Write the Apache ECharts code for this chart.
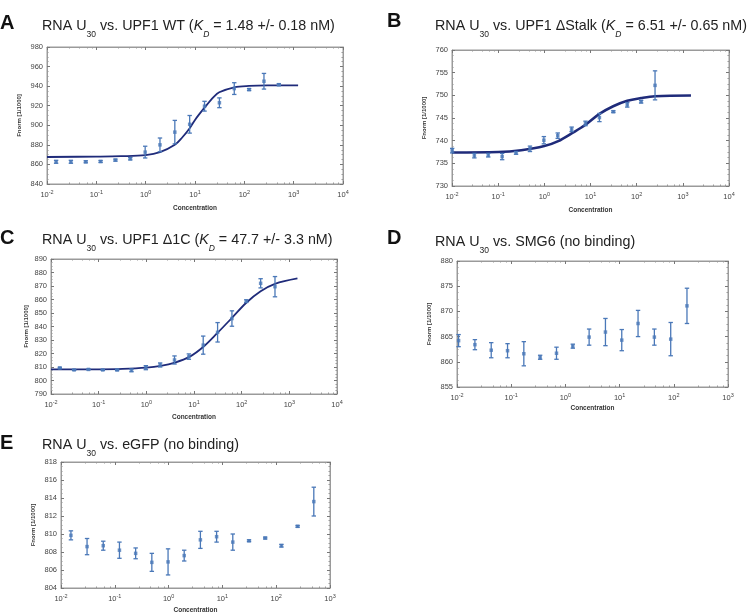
<!DOCTYPE html>
<html>
<head>
<meta charset="utf-8">
<script src="https://cdn.jsdelivr.net/npm/echarts@6/dist/echarts.min.js"></script>
<style>html,body{margin:0;padding:0;background:#fff;}#c{width:748px;height:616px;}</style>
</head>
<body>
<div id="c"></div>
<script>
// ---------- DATA ----------
// Panel A: RNA U30 vs UPF1 WT
const concA = [0.0153,0.0305,0.061,0.122,0.244,0.488,0.977,1.95,3.9,7.8,15.6,31.25,62.5,125,250,500];
const fnormA = [862.7,862.7,862.7,863.0,864.4,865.8,872.6,880.0,893.0,901.0,919.5,923.0,937.5,936.5,945.0,941.5];
const errA = [1.5,1.5,1.0,1.0,1.0,1.2,6.0,7.0,12.0,9.0,5.0,5.0,6.0,1.0,8.0,1.0];
const fitConcA = [0.01,0.1,0.316,1,1.95,3.9,5.5,7.8,10,15.6,24,31,62.5,125,300,1230];
const fitA = [867.6,868.0,868.4,869.5,872.5,880.0,887.5,897.0,905.5,918.0,929.0,933.7,938.8,940.2,940.7,940.8];

// Panel B: RNA U30 vs UPF1 dStalk
const concB = [0.0101,0.0305,0.061,0.122,0.244,0.488,0.977,1.95,3.9,7.8,15.6,31.25,62.5,125,250];
const fnormB = [737.8,736.7,736.8,736.5,737.3,738.2,740.1,741.1,742.5,743.8,745.1,746.4,747.9,748.6,752.2];
const errB = [0.5,0.5,0.4,0.7,0.3,0.6,0.8,0.6,0.5,0.5,0.9,0.2,0.5,0.3,3.2];
const fitConcB = [0.01,0.1,0.316,1,2,3.9,7.8,15.6,31,62.5,125,250,1500];
const fitB = [737.4,737.5,737.9,738.8,739.9,741.6,743.5,745.9,747.6,748.8,749.4,749.8,749.95];

// Panel C: RNA U30 vs UPF1 d1C
const concC = [0.0153,0.0305,0.061,0.122,0.244,0.488,0.977,1.95,3.9,7.8,15.6,31.25,62.5,125,250,500];
const fnormC = [809.3,807.8,808.2,807.8,807.8,807.5,809.5,811.5,815.2,817.7,826.2,835.7,845.9,858.8,872.0,869.5];
const errC = [0.5,0.3,0.3,0.3,0.5,1.0,1.5,1.5,3.0,2.0,6.7,7.2,5.7,1.0,3.4,7.5];
const fitConcC = [0.01,0.1,0.316,1,2,4,8,16,31,62.5,125,250,500,1480];
const fitC = [808.2,808.3,808.6,809.5,810.8,813.3,817.5,825.2,835.2,846.4,857.6,866.1,871.6,875.6];

// Panel D: RNA U30 vs SMG6
const concD = [0.0107,0.0214,0.0428,0.0856,0.171,0.342,0.685,1.37,2.74,5.48,10.96,21.9,43.8,87.7,175];
const fnormD = [864.2,863.4,862.3,862.2,861.6,860.9,861.7,863.1,864.9,865.9,864.3,867.6,864.9,864.5,871.1];
const errD = [1.2,1.0,1.5,1.4,2.4,0.4,1.2,0.4,1.6,2.7,2.1,2.6,1.6,3.3,3.5];

// Panel E: RNA U30 vs eGFP
const concE = [0.0153,0.0305,0.061,0.122,0.244,0.488,0.977,1.95,3.9,7.8,15.6,31.25,62.5,125,250,500];
const fnormE = [809.85,808.6,808.7,808.2,807.85,806.85,806.9,807.6,809.35,809.7,809.1,809.25,809.55,808.7,810.85,813.6];
const errE = [0.5,0.9,0.5,0.9,0.6,1.0,1.45,0.6,0.95,0.6,0.9,0.1,0.1,0.15,0.1,1.6];

// Axes
const yTicksA = {min:840,max:980,interval:20};
const yTicksB = {min:730,max:760,interval:5};
const yTicksC = {min:790,max:890,interval:10};
const yTicksD = {min:855,max:880,interval:5};
const yTicksE = {min:804,max:818,interval:2};
const xRangeABC = {min:0.01,max:10000};
const xRangeDE = {min:0.01,max:1000};

// ---------- STYLE ----------
const FONT = '"Liberation Sans", Arial, Helvetica, sans-serif';
const PT = '#4a78b8';
const CURVE = '#1f2b7a';
const FRAME = '#9a9a9a';

const panels = [
  {letter:'A', conc:concA, y:fnormA, e:errA, fx:fitConcA, fy:fitA, yr:yTicksA, xr:xRangeABC,
   grid:{left:47,top:47,width:296,height:137}, yGap:25, xGap:21,
   title:['{t|RNA U}{s|30}{t| vs. UPF1 WT (}{i|K}{si|D}{t| = 1.48 +/- 0.18 nM)}'], tl:37, tt:11, ll:-5, lt:8},
  {letter:'B', conc:concB, y:fnormB, e:errB, fx:fitConcB, fy:fitB, yr:yTicksB, xr:xRangeABC,
   grid:{left:452,top:50,width:277,height:136}, yGap:25, xGap:21, thick:true,
   title:['{t|RNA U}{s|30}{t| vs. UPF1 \u0394Stalk (}{i|K}{si|D}{t| = 6.51 +/- 0.65 nM)}'], tl:430, tt:11, ll:382, lt:6},
  {letter:'C', conc:concC, y:fnormC, e:errC, fx:fitConcC, fy:fitC, yr:yTicksC, xr:xRangeABC,
   grid:{left:51,top:259,width:286,height:135}, yGap:22, xGap:20,
   title:['{t|RNA U}{s|30}{t| vs. UPF1 \u03941C (}{i|K}{si|D}{t| = 47.7 +/- 3.3 nM)}'], tl:37, tt:225, ll:-5, lt:223},
  {letter:'D', conc:concD, y:fnormD, e:errD, yr:yTicksD, xr:xRangeDE,
   grid:{left:457,top:261,width:271,height:126}, yGap:25, xGap:18,
   title:['{t|RNA U}{s|30}{t| vs. SMG6 (no binding)}'], tl:430, tt:227, ll:382, lt:223},
  {letter:'E', conc:concE, y:fnormE, e:errE, yr:yTicksE, xr:xRangeDE,
   grid:{left:61,top:462,width:269,height:126}, yGap:25, xGap:19,
   title:['{t|RNA U}{s|30}{t| vs. eGFP (no binding)}'], tl:37, tt:430, ll:-5, lt:428}
];

const titleRich = {
  t:{fontSize:14.3,fontFamily:FONT,fontWeight:'normal',color:'#222',lineHeight:20,verticalAlign:'middle'},
  i:{fontSize:14.3,fontFamily:FONT,fontWeight:'normal',color:'#222',fontStyle:'italic',lineHeight:20,verticalAlign:'middle'},
  s:{fontSize:8.5,fontFamily:FONT,fontWeight:'normal',color:'#222',lineHeight:9,verticalAlign:'bottom',padding:[0,0,-3,0]},
  si:{fontSize:8.5,fontFamily:FONT,fontWeight:'normal',color:'#222',fontStyle:'italic',lineHeight:9,verticalAlign:'bottom',padding:[0,0,-3,0]}
};

function errItem(params, api) {
  const x = api.value(0), y = api.value(1), e = api.value(2);
  const hi = api.coord([x, y + e]);
  const lo = api.coord([x, y - e]);
  const w = 2.2;
  const st = {stroke: PT, lineWidth: 1.3};
  return {type:'group', children:[
    {type:'line', shape:{x1:hi[0],y1:hi[1],x2:lo[0],y2:lo[1]}, style:st},
    {type:'line', shape:{x1:hi[0]-w,y1:hi[1],x2:hi[0]+w,y2:hi[1]}, style:st},
    {type:'line', shape:{x1:lo[0]-w,y1:lo[1],x2:lo[0]+w,y2:lo[1]}, style:st}
  ]};
}

const option = {animation:false, backgroundColor:'#fff', title:[], grid:[], xAxis:[], yAxis:[], series:[]};

panels.forEach((p, k) => {
  option.title.push({text:p.letter, left:p.ll, top:p.lt,
    textStyle:{fontSize:20, fontWeight:'bold', fontFamily:FONT, color:'#111'}});
  option.title.push({text:p.title[0], left:p.tl, top:p.tt, textStyle:{fontWeight:'normal', rich:titleRich}});
  option.grid.push(Object.assign({show:true, borderColor:FRAME, borderWidth:1}, p.grid));
  const xi = option.xAxis.length;
  option.xAxis.push({
    type:'log', logBase:10, gridIndex:k, min:p.xr.min, max:p.xr.max,
    name:'Concentration', nameLocation:'middle', nameGap:p.xGap,
    nameTextStyle:{fontSize:6.5, fontWeight:'bold', fontFamily:FONT, color:'#333'},
    axisLine:{show:true, onZero:false, lineStyle:{color:FRAME}},
    axisTick:{show:true, inside:true, length:3, lineStyle:{color:'#777'}},
    minorTick:{show:true, splitNumber:5, length:1.5, lineStyle:{color:'#999'}},
    splitLine:{show:false},
    axisLabel:{margin:5, color:'#444', formatter:v => '{b|10}{u|' + Math.round(Math.log10(v)) + '}',
      rich:{b:{fontSize:7.5,fontFamily:FONT,color:'#444',lineHeight:10,verticalAlign:'bottom'},
            u:{fontSize:5.5,fontFamily:FONT,color:'#444',lineHeight:10,verticalAlign:'top'}}}
  });
  option.xAxis.push({
    type:'log', logBase:10, gridIndex:k, min:p.xr.min, max:p.xr.max, position:'top',
    axisLine:{show:true, lineStyle:{color:FRAME}},
    axisTick:{show:true, inside:true, length:3, lineStyle:{color:'#777'}},
    minorTick:{show:true, splitNumber:5, length:1.5, lineStyle:{color:'#999'}},
    axisLabel:{show:false}, splitLine:{show:false}
  });
  const yi = option.yAxis.length;
  option.yAxis.push({
    type:'value', gridIndex:k, min:p.yr.min, max:p.yr.max, interval:p.yr.interval,
    name:'Fnorm [1/1000]', nameLocation:'middle', nameRotate:90, nameGap:p.yGap,
    nameTextStyle:{fontSize:6, fontWeight:'bold', fontFamily:FONT, color:'#333'},
    axisLine:{show:true, lineStyle:{color:FRAME}},
    axisTick:{show:true, inside:true, length:3, lineStyle:{color:'#777'}},
    minorTick:{show:true, splitNumber:4, length:1.5, lineStyle:{color:'#999'}},
    splitLine:{show:false},
    axisLabel:{fontSize:7.5, fontFamily:FONT, color:'#444', margin:4}
  });
  option.yAxis.push({
    type:'value', gridIndex:k, min:p.yr.min, max:p.yr.max, interval:p.yr.interval, position:'right',
    axisLine:{show:true, lineStyle:{color:FRAME}},
    axisTick:{show:true, inside:true, length:3, lineStyle:{color:'#777'}},
    minorTick:{show:true, splitNumber:4, length:1.5, lineStyle:{color:'#999'}},
    axisLabel:{show:false}, splitLine:{show:false}
  });
  if (p.fx) {
    option.series.push({type:'line', xAxisIndex:xi, yAxisIndex:yi, smooth:0.35, showSymbol:false,
      data:p.fx.map((c,j) => [c, p.fy[j]]),
      lineStyle:{color:CURVE, width:p.thick ? 2.6 : 1.8}, z:3});
  }
  option.series.push({type:'custom', xAxisIndex:xi, yAxisIndex:yi, renderItem:errItem,
    encode:{x:0, y:1}, data:p.conc.map((c,j) => [c, p.y[j], p.e[j]]), z:4});
  option.series.push({type:'scatter', xAxisIndex:xi, yAxisIndex:yi, symbol:'rect', symbolSize:3.5,
    itemStyle:{color:PT}, data:p.conc.map((c,j) => [c, p.y[j]]), z:5});
});

const chart = echarts.init(document.getElementById('c'), null, {renderer:'canvas'});
chart.setOption(option);
</script>
</body>
</html>
